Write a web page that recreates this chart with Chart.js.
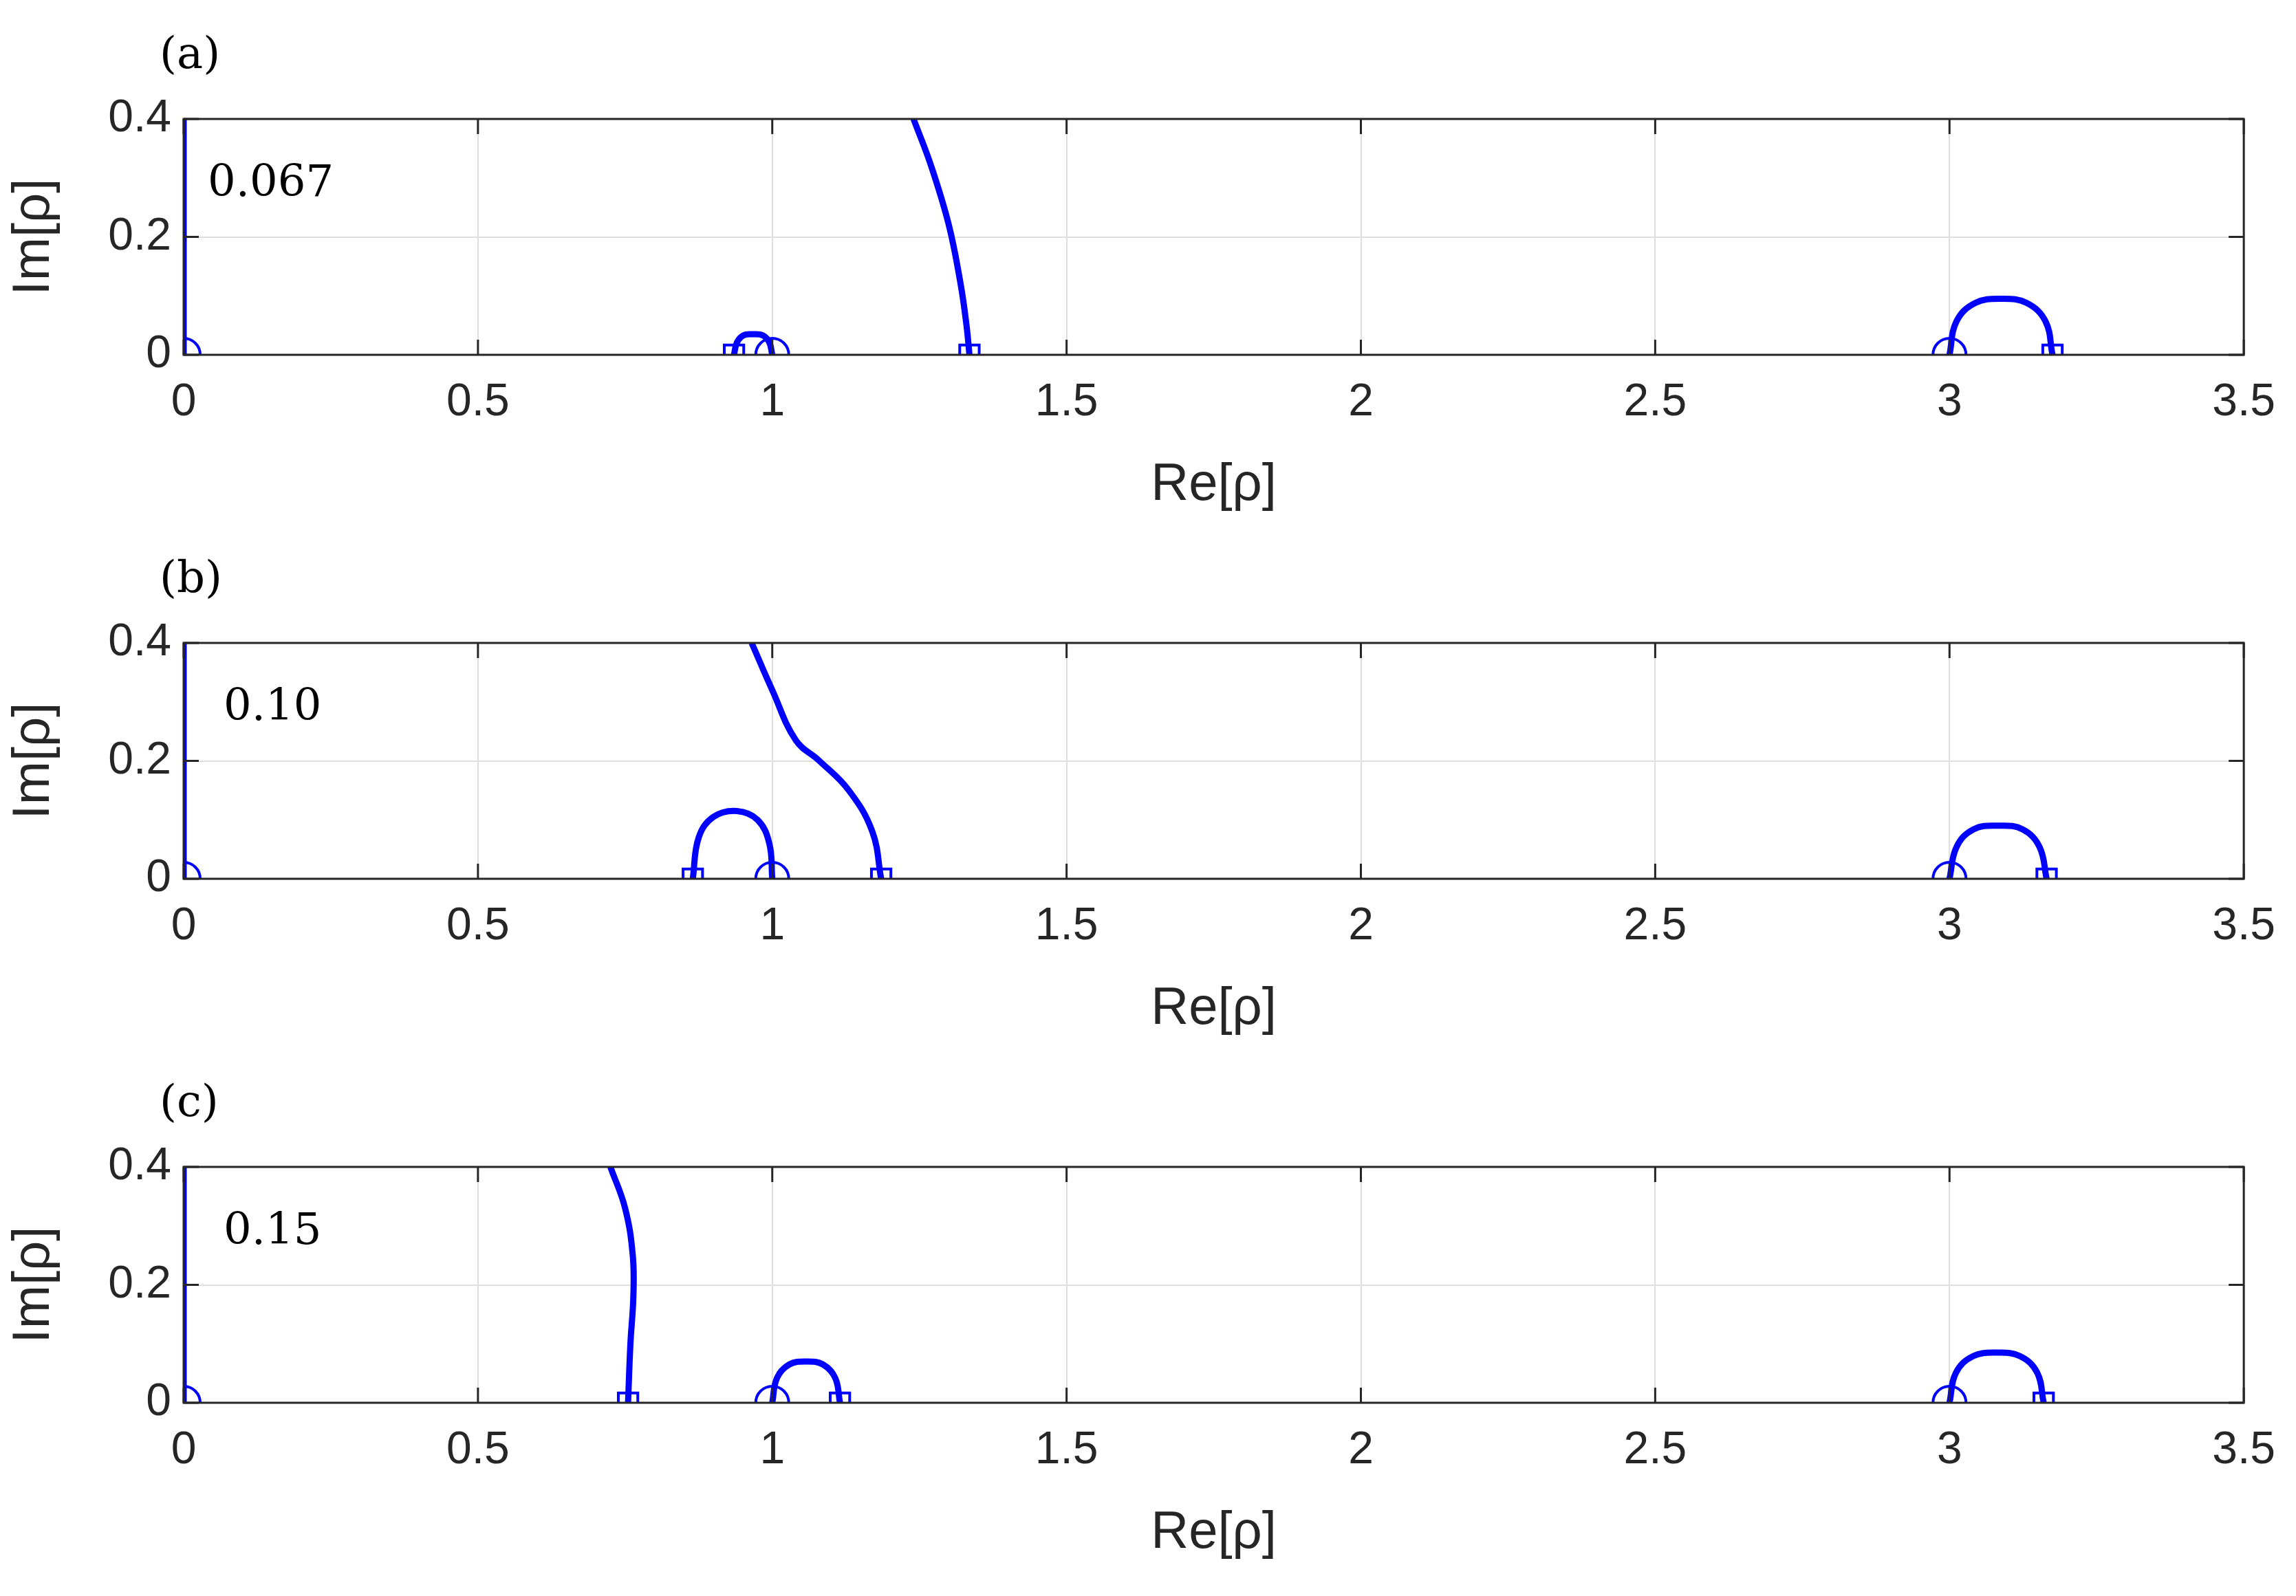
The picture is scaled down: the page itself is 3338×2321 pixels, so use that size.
<!DOCTYPE html>
<html>
<head>
<meta charset="utf-8">
<script src="https://cdn.jsdelivr.net/npm/chart.js@4.4.1/dist/chart.umd.min.js"></script>
<style>
  body { margin: 0; background: #fff; }
  .panel { position: absolute; left: 0; width: 3338px; height: 762px; }
</style>
</head>
<body>
<div class="panel" style="top:0"><canvas id="pa"></canvas></div>
<div class="panel" style="top:762px"><canvas id="pb"></canvas></div>
<div class="panel" style="top:1524px"><canvas id="pc"></canvas></div>
<script>
// tick values shared by all panels
const xTicks = [0, 0.5, 1, 1.5, 2, 2.5, 3, 3.5];
const yTicks = [0, 0.2, 0.4];

// panel (a), coupling 0.067
const aLabel = '(a)', aValue = '0.067';
const aCurves = [
    [{x: 0, y: 0.4}, {x: 0, y: 0}],
    [{x: 0.935, y: 0}, {x: 0.94, y: 0.021}, {x: 0.951, y: 0.033}, {x: 0.967, y: 0.035}, {x: 0.984, y: 0.033}, {x: 0.995, y: 0.021}, {x: 1.0, y: 0}],
    [{x: 1.24, y: 0.4}, {x: 1.27, y: 0.32}, {x: 1.3, y: 0.22}, {x: 1.32, y: 0.12}, {x: 1.33, y: 0.05}, {x: 1.335, y: 0}],
    [{x: 3.0, y: 0}, {x: 3.012, y: 0.057}, {x: 3.044, y: 0.088}, {x: 3.088, y: 0.095}, {x: 3.131, y: 0.088}, {x: 3.163, y: 0.057}, {x: 3.175, y: 0}]
];
const aCircles = [{x: 0, y: 0}, {x: 1.0, y: 0}, {x: 3.0, y: 0}];
const aSquares = [{x: 0.935, y: 0}, {x: 1.335, y: 0}, {x: 3.175, y: 0}];

// panel (b), coupling 0.10
const bLabel = '(b)', bValue = '0.10';
const bCurves = [
    [{x: 0, y: 0.4}, {x: 0, y: 0}],
    [{x: 0.865, y: 0}, {x: 0.875, y: 0.07}, {x: 0.9, y: 0.105}, {x: 0.94, y: 0.115}, {x: 0.975, y: 0.1}, {x: 0.995, y: 0.06}, {x: 1.0, y: 0}],
    [{x: 0.965, y: 0.4}, {x: 1.0, y: 0.32}, {x: 1.04, y: 0.235}, {x: 1.08, y: 0.2}, {x: 1.13, y: 0.15}, {x: 1.17, y: 0.08}, {x: 1.185, y: 0}],
    [{x: 3.0, y: 0}, {x: 3.012, y: 0.054}, {x: 3.041, y: 0.084}, {x: 3.083, y: 0.09}, {x: 3.124, y: 0.084}, {x: 3.153, y: 0.054}, {x: 3.165, y: 0}]
];
const bCircles = [{x: 0, y: 0}, {x: 1.0, y: 0}, {x: 3.0, y: 0}];
const bSquares = [{x: 0.865, y: 0}, {x: 1.185, y: 0}, {x: 3.165, y: 0}];

// panel (c), coupling 0.15
const cLabel = '(c)', cValue = '0.15';
const cCurves = [
    [{x: 0, y: 0.4}, {x: 0, y: 0}],
    [{x: 0.725, y: 0.4}, {x: 0.75, y: 0.33}, {x: 0.763, y: 0.25}, {x: 0.764, y: 0.18}, {x: 0.759, y: 0.1}, {x: 0.755, y: 0}],
    [{x: 1.0, y: 0}, {x: 1.008, y: 0.042}, {x: 1.029, y: 0.065}, {x: 1.058, y: 0.07}, {x: 1.086, y: 0.065}, {x: 1.107, y: 0.042}, {x: 1.115, y: 0}],
    [{x: 3.0, y: 0}, {x: 3.011, y: 0.051}, {x: 3.04, y: 0.079}, {x: 3.08, y: 0.085}, {x: 3.12, y: 0.079}, {x: 3.149, y: 0.051}, {x: 3.16, y: 0}]
];
const cCircles = [{x: 0, y: 0}, {x: 1.0, y: 0}, {x: 3.0, y: 0}];
const cSquares = [{x: 0.755, y: 0}, {x: 1.115, y: 0}, {x: 3.16, y: 0}];

const BLUE = '#0000ff';
const SANS = '"Liberation Sans", Arial, sans-serif';
const SERIF = '"DejaVu Serif", "Liberation Serif", serif';

// MATLAB-style box, inward ticks and panel labels
const matlabBox = {
    id: 'matlabBox',
    afterDraw(chart) {
        const {ctx, chartArea: a, scales} = chart;
        const o = chart.options.plugins.matlabBox;
        ctx.save();
        ctx.strokeStyle = '#262626';
        ctx.lineWidth = 3;
        ctx.strokeRect(a.left, a.top, a.right - a.left, a.bottom - a.top);
        const t = 22;
        ctx.beginPath();
        xTicks.forEach(v => {
            const px = scales.x.getPixelForValue(v);
            ctx.moveTo(px, a.bottom); ctx.lineTo(px, a.bottom - t);
            ctx.moveTo(px, a.top); ctx.lineTo(px, a.top + t);
        });
        yTicks.forEach(v => {
            const py = scales.y.getPixelForValue(v);
            ctx.moveTo(a.left, py); ctx.lineTo(a.left + t, py);
            ctx.moveTo(a.right, py); ctx.lineTo(a.right - t, py);
        });
        ctx.stroke();
        ctx.fillStyle = '#000';
        ctx.font = '64px ' + SERIF;
        ctx.textBaseline = 'middle';
        ctx.fillText(o.label, 232, 82);
        ctx.fillText(o.value, o.valueX, a.top + 95);
        ctx.restore();
    }
};

function makePanel(id, label, value, valueX, curves, circles, squares) {
    const datasets = curves.map(c => ({
        data: c, showLine: true, borderColor: BLUE, borderWidth: 9,
        tension: 0.4, pointRadius: 0, order: 2
    }));
    datasets.push({data: circles, pointStyle: 'circle', pointRadius: 24, borderColor: BLUE,
        backgroundColor: 'rgba(0,0,0,0)', pointBorderWidth: 4, showLine: false, order: 1});
    datasets.push({data: squares, pointStyle: 'rect', pointRadius: 20, borderColor: BLUE,
        backgroundColor: 'rgba(0,0,0,0)', pointBorderWidth: 4, showLine: false, order: 1});

    new Chart(document.getElementById(id), {
        type: 'scatter',
        data: {datasets},
        options: {
            responsive: true,
            maintainAspectRatio: false,
            animation: false,
            layout: {padding: {top: 173, right: 73, bottom: 6, left: 0}},
            plugins: {legend: {display: false}, tooltip: {enabled: false},
                matlabBox: {label, value, valueX}},
            scales: {
                x: {
                    type: 'linear', min: 0, max: 3.5,
                    afterBuildTicks: s => { s.ticks = xTicks.map(v => ({value: v})); },
                    afterFit: s => { s.height = 240; },
                    grid: {color: '#dfdfdf', lineWidth: 2, drawTicks: false},
                    border: {display: false},
                    ticks: {color: '#262626', padding: 30, font: {family: SANS, size: 66},
                        callback: v => String(v), maxRotation: 0},
                    title: {display: true, text: 'Re[ρ]', color: '#262626', padding: {top: 20},
                        font: {family: SANS, size: 76}}
                },
                y: {
                    min: 0, max: 0.4,
                    afterBuildTicks: s => { s.ticks = yTicks.map(v => ({value: v})); },
                    afterFit: s => { s.width = 267; },
                    grid: {color: '#dfdfdf', lineWidth: 2, drawTicks: false},
                    border: {display: false},
                    ticks: {color: '#262626', padding: 18, font: {family: SANS, size: 66},
                        callback: v => String(v)},
                    title: {display: true, text: 'Im[ρ]', color: '#262626', padding: {bottom: 0},
                        font: {family: SANS, size: 76}}
                }
            }
        },
        plugins: [matlabBox]
    });
}

makePanel('pa', aLabel, aValue, 302, aCurves, aCircles, aSquares);
makePanel('pb', bLabel, bValue, 325, bCurves, bCircles, bSquares);
makePanel('pc', cLabel, cValue, 325, cCurves, cCircles, cSquares);
</script>
</body>
</html>
